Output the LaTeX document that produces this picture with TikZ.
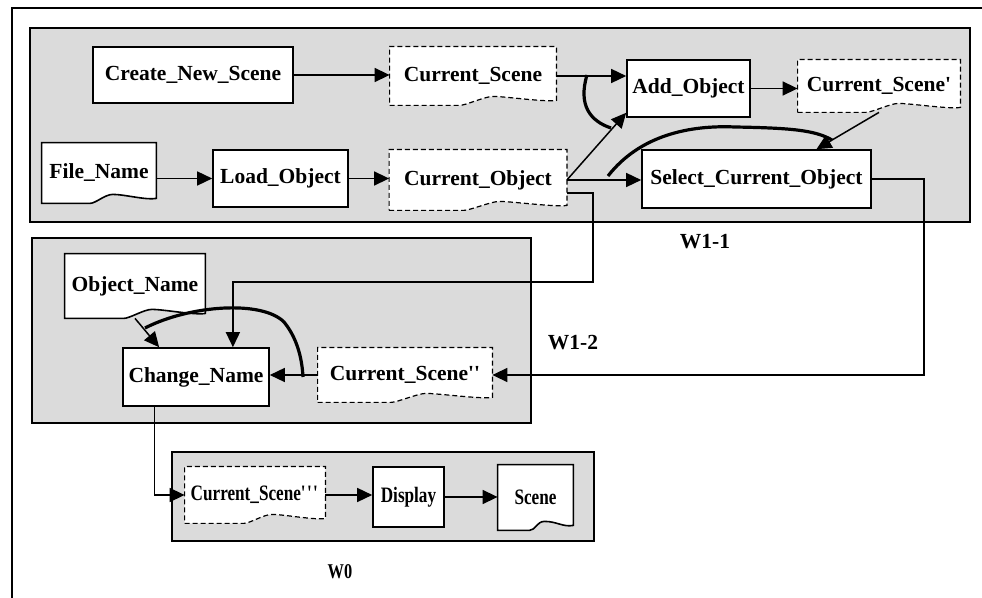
\documentclass[tikz,border=0pt]{standalone}
\usepackage{fontspec}
\setmainfont{Liberation Serif}
\newfontfamily\narrowserif[FakeStretch=0.78]{Liberation Serif}
\usetikzlibrary{arrows.meta,calc}
\pgfdeclarelayer{panels}
\pgfdeclarelayer{shapes}
\pgfsetlayers{panels,shapes,main}

\tikzset{
  box/.style={draw, line width=0.8pt, fill=white, inner sep=0pt,
    font=\bfseries\fontsize{10.75}{12}\selectfont},
  store/.style={inner sep=0pt, font=\bfseries\fontsize{10.75}{12}\selectfont},
  small/.style={font=\narrowserif\bfseries\fontsize{11}{12}\selectfont},
  panel/.style={fill=gray!28, draw, line width=0.6pt},
  arr/.style={line width=0.75pt, -{Triangle[length=7.5pt,width=7pt]}},
  andarc/.style={line width=1.6pt},
  tag/.style={font=\bfseries\fontsize{10.75}{12}\selectfont},
  cloudline/.style={line width=0.6pt, dash pattern=on 2.5pt off 1.5pt},
}

% outline with a wavy bottom, drawn behind the node text
\newcommand{\docoutline}[2]{%
  \begin{pgfonlayer}{shapes}
  \draw[fill=white, #2] (#1.south west)
    -- ($(#1.south west)!0.42!(#1.south east)$)
    .. controls +(3pt,0) and +(-4pt,0) .. ($(#1.south west)!0.62!(#1.south east)+(0,4.5pt)$)
    .. controls +(6pt,0) and +(-5pt,-1pt) .. ($(#1.south east)+(0,2.5pt)$)
    -- (#1.north east) -- (#1.north west) -- cycle;
  \end{pgfonlayer}}

\begin{document}
\begin{tikzpicture}[x=0.5pt, y=-0.5pt]
\useasboundingbox (0,0) rectangle (982,598);
\draw[line width=0.6pt] (12,598) -- (12,8) -- (982,8);

% panels
\begin{pgfonlayer}{panels}
\draw[panel] (30,28) rectangle (970,222);
\draw[panel] (32,238) rectangle (531,423);
\draw[panel] (172,452) rectangle (594,541);
\end{pgfonlayer}

% W1-1
\node[box, minimum width=100pt, minimum height=28pt] (cns) at (193,75) {Create\_New\_Scene};
\node[store, minimum width=83pt, minimum height=29pt] (cs) at (473,76) {Current\_Scene};
\node[box, minimum width=61.5pt, minimum height=28.5pt] (add) at (688.5,88.5) {Add\_Object};
\node[store, minimum width=81pt, minimum height=26pt] (cs1) at (879,86) {Current\_Scene\textquotesingle};
\node[store, minimum width=57pt, minimum height=30pt] (fn) at (99,173) {File\_Name};
\node[box, minimum width=67.5pt, minimum height=28.5pt] (load) at (280.5,178.5) {Load\_Object};
\node[store, minimum width=88.5pt, minimum height=30pt] (co) at (478,180) {Current\_Object};
\node[box, minimum width=114.5pt, minimum height=29pt] (sco) at (756.5,179) {Select\_Current\_Object};

% W1-2
\node[store, minimum width=70pt, minimum height=32pt] (on) at (135,286) {Object\_Name};
\node[box, minimum width=73pt, minimum height=29pt] (chn) at (196,377) {Change\_Name};
\node[store, minimum width=87pt, minimum height=27pt] (cs2) at (405,375) {Current\_Scene\textquotesingle\textquotesingle};

% W0
\node[store, small, minimum width=70pt, minimum height=28pt] (cs3) at (255,495) {Current\_Scene\textquotesingle\textquotesingle\textquotesingle};
\node[box, small, minimum width=35.5pt, minimum height=30pt] (disp) at (408.5,497) {Display};
\node[store, small, minimum width=37.5pt, minimum height=32.5pt] (scene) at (535.5,497.5) {Scene};

\docoutline{cs}{cloudline}
\docoutline{cs1}{cloudline}
\docoutline{co}{cloudline}
\docoutline{cs2}{cloudline}
\docoutline{cs3}{cloudline}
\docoutline{fn}{line width=0.8pt}
\docoutline{on}{line width=0.8pt}
\docoutline{scene}{line width=0.8pt}

% connectors
\draw[arr] (cns.east) -- (cns.east -| cs.west);
\draw[arr] (cs.east) -- (cs.east -| add.west);
\draw[arr] (add.east) -- (add.east -| cs1.west);
\draw[arr] (fn.east |- load.west) -- (load.west);
\draw[arr] (load.east) -- (load.east -| co.west);
\draw[arr] (co.east) -- (co.east -| sco.west);
\draw[arr] (co.east) -- ([yshift=2.5pt]add.south west);
\draw[arr] (cs1.south) -- ($(sco.north)!0.52!(sco.north east)$);
\draw[arr] ([yshift=-6.5pt]co.east) -- ++(13pt,0) -- ++(0,-44.5pt)
  -| ($(chn.north)!0.5!(chn.north east)$);
\draw[arr] (sco.east) -- ++(26pt,0) |- (cs2.east);
\draw[arr] (cs2.west) -- (cs2.west -| chn.east);
\draw[arr] (on.south) -- ($(chn.north)!0.5!(chn.north west)$);
\draw[arr] ($(chn.south)!0.56!(chn.south west)$) |- (cs3.west);
\draw[arr] (cs3.east) -- (cs3.east -| disp.west);
\draw[arr] (disp.east) -- (disp.east -| scene.west);

% and-arcs
\draw[andarc] (587,75) .. controls (578,105) and (590,121) .. (611,128);
\draw[andarc] (608,176) .. controls (640,135) and (690,125) .. (735,127)
  .. controls (790,128) and (815,130) .. (832,140);
\draw[andarc] (145,328) .. controls (190,305) and (262,300) .. (284,322)
  .. controls (297,338) and (302,358) .. (303,377);

% labels
\node[tag] (w11) at (705,242) {W1-1};
\node[tag] (w12) at (573,343) {W1-2};
\node[font=\narrowserif\bfseries\fontsize{10.5}{12}\selectfont] (w0) at (340,572) {W0};
\end{tikzpicture}
\end{document}
